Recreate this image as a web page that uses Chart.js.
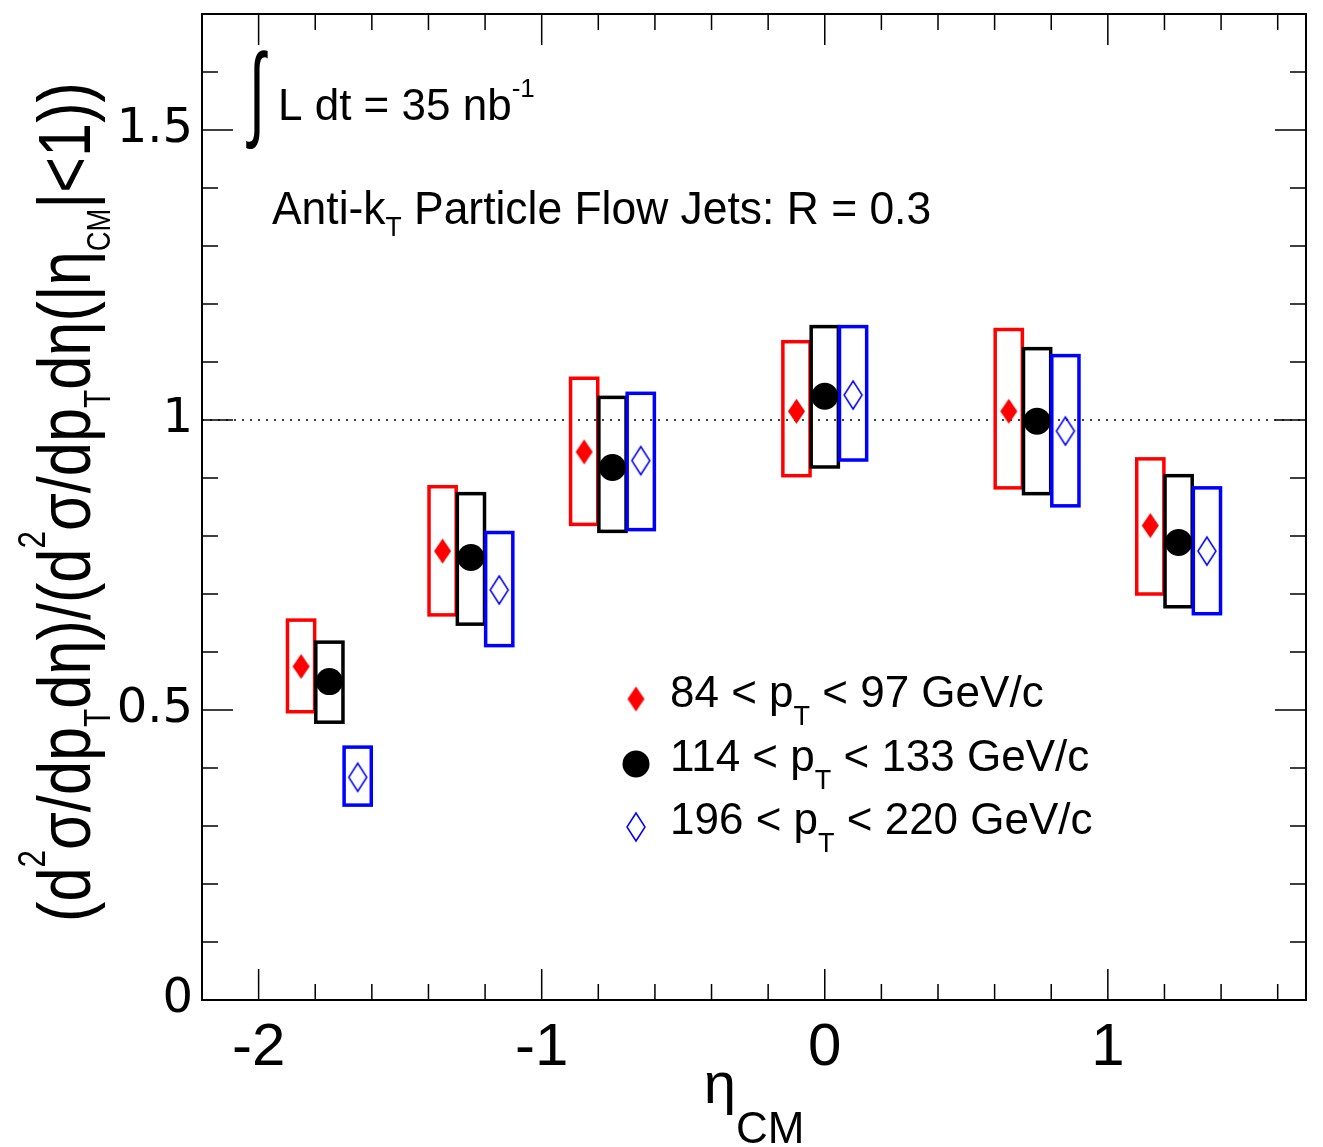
<!DOCTYPE html>
<html><head><meta charset="utf-8">
<script src="https://cdn.jsdelivr.net/npm/chart.js@4.4.1/dist/chart.umd.min.js"></script>
<style>html,body{margin:0;padding:0;background:#fff;}canvas{display:block;}</style>
</head><body>
<canvas id="c" width="1323" height="1147"></canvas>
<script>
// ---- data ----
const etaLowPt  = [-1.85, -1.35, -0.85, -0.10, 0.65, 1.15];
const etaMidPt  = [-1.75, -1.25, -0.75,  0.00, 0.75, 1.25];
const etaHighPt = [-1.65, -1.15, -0.65,  0.10, 0.85, 1.35];

const ratioLowPt   = [0.575, 0.774, 0.945, 1.015, 1.015, 0.818];
const sysLowPtMin  = [0.497, 0.664, 0.820, 0.904, 0.883, 0.700];
const sysLowPtMax  = [0.655, 0.885, 1.072, 1.135, 1.156, 0.933];

const ratioMidPt   = [0.549, 0.763, 0.918, 1.041, 0.998, 0.789];
const sysMidPtMin  = [0.479, 0.648, 0.808, 0.919, 0.873, 0.678];
const sysMidPtMax  = [0.617, 0.873, 1.039, 1.161, 1.123, 0.904];

const ratioHighPt  = [0.384, 0.707, 0.930, 1.043, 0.981, 0.774];
const sysHighPtMin = [0.336, 0.611, 0.811, 0.931, 0.852, 0.666];
const sysHighPtMax = [0.436, 0.806, 1.046, 1.161, 1.111, 0.883];

const seriesLabels = [
  ['84 < p', 'T', ' < 97 GeV/c'],
  ['114 < p', 'T', ' < 133 GeV/c'],
  ['196 < p', 'T', ' < 220 GeV/c']
];
const xTickValues = [-2, -1, 0, 1];
const xTickLabels = ['-2', '-1', '0', '1'];
const yTickValues = [0, 0.5, 1, 1.5];
const yTickLabels = ['0', '0.5', '1', '1.5'];
const referenceLine = 1;

// ---- styles ----
const RED = '#ff0000', BLACK = '#000000', BLUE = '#0000ff';
const SANS = "'Liberation Sans', Arial, sans-serif";
const BOX_HALF = 0.048;

function diamond(w, h, fill, stroke, lw) {
  const c = document.createElement('canvas');
  c.width = w + 4; c.height = h + 4;
  const g = c.getContext('2d');
  const cx = c.width / 2, cy = c.height / 2;
  g.beginPath();
  g.moveTo(cx, cy - h / 2); g.lineTo(cx + w / 2, cy); g.lineTo(cx, cy + h / 2); g.lineTo(cx - w / 2, cy); g.closePath();
  if (fill) { g.fillStyle = fill; g.fill(); }
  if (stroke) { g.strokeStyle = stroke; g.lineWidth = lw; g.stroke(); }
  return c;
}
const redDiamond = diamond(17, 25, RED, null, 0);
const blueDiamond = diamond(18, 28, null, BLUE, 1.5);

const toPts = (xs, ys) => xs.map((x, i) => ({x: x, y: ys[i]}));

const series = [
  {x: etaLowPt, y: ratioLowPt, lo: sysLowPtMin, hi: sysLowPtMax, color: RED},
  {x: etaMidPt, y: ratioMidPt, lo: sysMidPtMin, hi: sysMidPtMax, color: BLACK},
  {x: etaHighPt, y: ratioHighPt, lo: sysHighPtMin, hi: sysHighPtMax, color: BLUE}
];

function drawRich(ctx, x, y, parts, sx) {
  ctx.save();
  ctx.translate(x, y);
  ctx.scale(sx || 1, 1);
  let cur = 0;
  for (const p of parts) {
    ctx.font = p.s + 'px ' + (p.f || SANS);
    ctx.fillText(p.t, cur, p.dy || 0);
    cur += ctx.measureText(p.t).width;
  }
  ctx.restore();
  return cur * (sx || 1);
}
function richWidth(ctx, parts) {
  let w = 0;
  for (const p of parts) { ctx.font = p.s + 'px ' + (p.f || SANS); w += ctx.measureText(p.t).width; }
  return w;
}

const rootPlugin = {
  id: 'rootStyle',
  beforeDatasetsDraw(chart) {
    const {ctx, chartArea: a, scales: {x, y}} = chart;
    ctx.save();
    // dotted reference line
    ctx.strokeStyle = '#000'; ctx.lineWidth = 1.5; ctx.setLineDash([2, 6]);
    const yr = y.getPixelForValue(referenceLine);
    ctx.beginPath(); ctx.moveTo(a.left, yr); ctx.lineTo(a.right, yr); ctx.stroke();
    ctx.setLineDash([]);
    // systematic boxes
    ctx.lineWidth = 3.5;
    for (const s of series) {
      ctx.strokeStyle = s.color;
      for (let i = 0; i < s.x.length; i++) {
        const x0 = x.getPixelForValue(s.x[i] - BOX_HALF), x1 = x.getPixelForValue(s.x[i] + BOX_HALF);
        const y0 = y.getPixelForValue(s.hi[i]), y1 = y.getPixelForValue(s.lo[i]);
        ctx.strokeRect(x0, y0, x1 - x0, y1 - y0);
      }
    }
    ctx.restore();
  },
  afterDraw(chart) {
    const {ctx, chartArea: a, scales: {x, y}} = chart;
    ctx.save();
    ctx.fillStyle = '#000'; ctx.strokeStyle = '#000';
    // frame
    ctx.lineWidth = 2;
    ctx.strokeRect(a.left, a.top, a.right - a.left, a.bottom - a.top);
    // ticks
    ctx.lineWidth = 1.5;
    ctx.beginPath();
    for (let k = -11; k <= 8; k++) {
      const v = k / 5;
      if (v < x.min - 1e-9 || v > x.max + 1e-9) continue;
      const px = x.getPixelForValue(v);
      const L = (k % 5 === 0) ? 31 : 16;
      ctx.moveTo(px, a.bottom); ctx.lineTo(px, a.bottom - L);
      ctx.moveTo(px, a.top); ctx.lineTo(px, a.top + L);
    }
    for (let k = 0; k <= 17; k++) {
      const v = k / 10;
      const py = y.getPixelForValue(v);
      const L = (k % 5 === 0) ? 31 : 16;
      ctx.moveTo(a.left, py); ctx.lineTo(a.left + L, py);
      ctx.moveTo(a.right, py); ctx.lineTo(a.right - L, py);
    }
    ctx.stroke();

    ctx.textBaseline = 'alphabetic'; ctx.textAlign = 'left';
    // integral sign
    ctx.save();
    ctx.font = '100px ' + SANS;
    const m = ctx.measureText('∫');
    const gh = m.actualBoundingBoxAscent + m.actualBoundingBoxDescent;
    const gw = m.actualBoundingBoxLeft + m.actualBoundingBoxRight;
    const tx = a.left + 44, ty = 50, tw = 22, th = 100;
    ctx.translate(tx, ty);
    ctx.scale(tw / gw, th / gh);
    ctx.fillText('∫', m.actualBoundingBoxLeft, m.actualBoundingBoxAscent);
    ctx.restore();
    // luminosity
    drawRich(ctx, a.left + 76, 120, [
      {t: 'L dt = 35 nb', s: 44},
      {t: '-1', s: 26, dy: -23}
    ]);
    // jets label
    drawRich(ctx, a.left + 70, 224, [
      {t: 'Anti-k', s: 47},
      {t: 'T', s: 28, dy: 12},
      {t: ' Particle Flow Jets: R = 0.3', s: 47}
    ], 0.945);
    // legend
    const ds = chart.data.datasets;
    const rowY = [699, 764, 827], baseY = [707, 771, 834];
    for (let i = 0; i < 3; i++) {
      const d = ds[i];
      Chart.helpers.drawPoint(ctx, {pointStyle: d.pointStyle, radius: d.pointRadius, borderWidth: 0, rotation: 0}, 636, rowY[i]);
      ctx.fillStyle = '#000';
      const L = seriesLabels[i];
      drawRich(ctx, 670, baseY[i], [
        {t: L[0], s: 44}, {t: L[1], s: 27, dy: 18}, {t: L[2], s: 44}
      ]);
    }
    // x title
    const xt = [{t: 'η', s: 58}, {t: 'CM', s: 44, dy: 40}];
    const xw = richWidth(ctx, xt);
    drawRich(ctx, (a.left + a.right) / 2 - xw / 2, 1103, xt);
    // y title
    const yt = [
      {t: '(d', s: 74}, {t: '2', s: 38, dy: -45}, {t: 'σ/dp', s: 74}, {t: 'T', s: 36, dy: 20},
      {t: 'dη)/(d', s: 74}, {t: '2', s: 38, dy: -45}, {t: 'σ/dp', s: 74}, {t: 'T', s: 36, dy: 20},
      {t: 'dη(|η', s: 74}, {t: 'CM', s: 33, dy: 20}, {t: '|<1))', s: 74}
    ];
    const yw = richWidth(ctx, yt);
    const targetLen = 840;
    ctx.save();
    ctx.translate(90, 502);
    ctx.rotate(-Math.PI / 2);
    drawRich(ctx, -targetLen / 2, 0, yt, targetLen / yw);
    ctx.restore();
    ctx.restore();
  }
};

new Chart(document.getElementById('c').getContext('2d'), {
  type: 'scatter',
  data: {
    datasets: [
      {label: seriesLabels[0].join(''), data: toPts(etaLowPt, ratioLowPt), pointStyle: redDiamond, pointRadius: 12, backgroundColor: RED, borderColor: RED, borderWidth: 0},
      {label: seriesLabels[1].join(''), data: toPts(etaMidPt, ratioMidPt), pointStyle: 'circle', pointRadius: 13.5, backgroundColor: BLACK, borderColor: BLACK, borderWidth: 0},
      {label: seriesLabels[2].join(''), data: toPts(etaHighPt, ratioHighPt), pointStyle: blueDiamond, pointRadius: 14, backgroundColor: 'rgba(0,0,0,0)', borderColor: BLUE, borderWidth: 0}
    ]
  },
  options: {
    responsive: false,
    animation: false,
    devicePixelRatio: 1,
    events: [],
    layout: {padding: {top: 1, right: 17, left: 0, bottom: 0}},
    plugins: {legend: {display: false}, tooltip: {enabled: false}, title: {display: false}},
    scales: {
      x: {
        type: 'linear', min: -2.2, max: 1.7,
        grid: {display: false, drawTicks: false}, border: {display: false},
        afterBuildTicks: s => { s.ticks = xTickValues.map(v => ({value: v})); },
        afterFit: s => { s.height = 147; s.paddingLeft = 0; s.paddingRight = 0; s.paddingTop = 0; s.paddingBottom = 0; },
        ticks: {
          padding: 12, color: '#000', maxRotation: 0, autoSkip: false,
          font: {family: SANS, size: 60},
          callback: (v, i) => xTickLabels[i]
        }
      },
      y: {
        type: 'linear', min: 0, max: 1.7,
        grid: {display: false, drawTicks: false}, border: {display: false},
        afterBuildTicks: s => { s.ticks = yTickValues.map(v => ({value: v})); },
        afterFit: s => { s.width = 202; s.paddingTop = 0; s.paddingBottom = 0; s.paddingLeft = 0; s.paddingRight = 0; },
        ticks: {
          padding: 9, color: '#000', autoSkip: false,
          font: {family: "'DejaVu Sans', sans-serif", size: 48},
          callback: (v, i) => yTickLabels[i]
        }
      }
    }
  },
  plugins: [rootPlugin]
});
</script>
</body></html>
